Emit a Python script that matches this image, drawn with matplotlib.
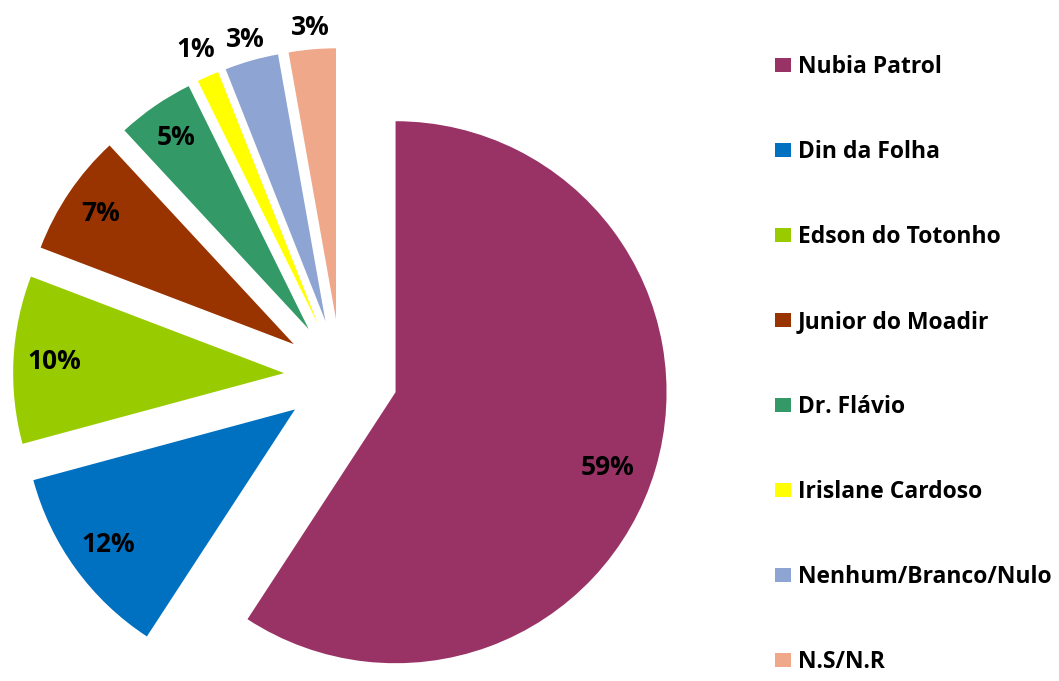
import numpy as np
import matplotlib
matplotlib.use("Agg")
import matplotlib.pyplot as plt

names = ["Nubia Patrol", "Din da Folha", "Edson do Totonho", "Junior do Moadir",
         "Dr. Flávio", "Irislane Cardoso", "Nenhum/Branco/Nulo", "N.S/N.R"]
values = [59.2, 11.6, 10.0, 7.3, 4.6, 1.3, 3.2, 2.8]
colors = ["#993366", "#0070C0", "#99CC00", "#993300",
          "#339966", "#FFFF00", "#8EA4D2", "#F0A88A"]

# where each percentage sits: fraction of radius, angle tweak in degrees
label_dist = [0.83, 0.85, 0.85, 0.86, 0.86, 1.11, 1.08, 1.08]
label_turn = [-3, 0, 0, 0, 0, 0, 0, 0]

W, H, dpi = 1059, 681, 100
cx, cy, rad = 341, 376, 271   # pie centre / radius in pixels

fig = plt.figure(figsize=(W / dpi, H / dpi), dpi=dpi)
ax = fig.add_axes([0, 0, 1, 1])

wedges, _ = ax.pie(values, colors=colors, startangle=90, counterclock=False,
                   explode=[0.21] * len(values), radius=1,
                   wedgeprops=dict(linewidth=0))
ax.set_aspect("auto")
ax.set_xlim(-cx / rad, (W - cx) / rad)
ax.set_ylim(-(H - cy) / rad, cy / rad)
ax.axis("off")

total = sum(values)
for w, v, d, t in zip(wedges, values, label_dist, label_turn):
    ang = np.deg2rad((w.theta1 + w.theta2) / 2 + t)
    x0, y0 = w.center
    ax.text(x0 + d * np.cos(ang), y0 + d * np.sin(ang), "%.0f%%" % (100 * v / total),
            ha="center", va="center", fontsize=19, fontweight="bold",
            family="Open Sans", color="black")

fig.legend(wedges, names, loc="upper left", bbox_to_anchor=(775 / W, 1 - 55 / H),
           frameon=False, prop=dict(family="Open Sans", weight="bold", size=16.5),
           handlelength=0.7, handleheight=0.57, handletextpad=0.3,
           labelspacing=2.66, borderpad=0, borderaxespad=0)

fig.savefig("out.png", dpi=dpi)
